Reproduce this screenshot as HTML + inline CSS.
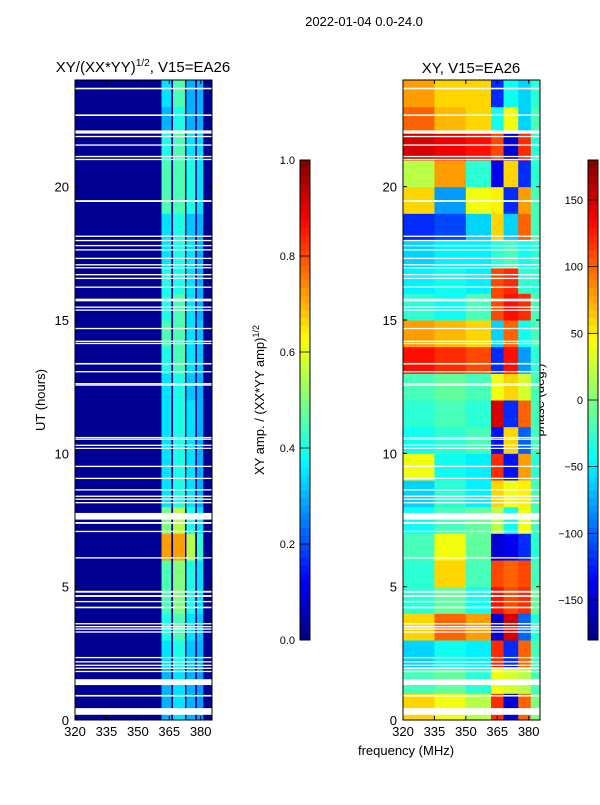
<!DOCTYPE html>
<html><head><meta charset="utf-8"><style>
body{margin:0;background:#fff;width:600px;height:800px;overflow:hidden}
svg{font-family:"Liberation Sans","DejaVu Sans",sans-serif}
</style></head><body>
<svg id="fig" width="600" height="800" viewBox="0 0 600 800" xmlns="http://www.w3.org/2000/svg">
<text x="364" y="26" font-size="13" text-anchor="middle">2022-01-04 0.0-24.0</text>
<text x="143" y="72" font-size="15" text-anchor="middle">XY/(XX*YY)<tspan font-size="10" dy="-6">1/2</tspan><tspan dy="6">, V15=EA26</tspan></text>
<text x="471" y="73" font-size="15" text-anchor="middle">XY, V15=EA26</text>
<text x="45" y="400" font-size="13" text-anchor="middle" transform="rotate(-90 45 400)">UT (hours)</text>
<text x="406" y="755" font-size="13" text-anchor="middle">frequency (MHz)</text>
<text x="264" y="400" font-size="13" text-anchor="middle" transform="rotate(-90 264 400)">XY amp. / (XX*YY amp)<tspan font-size="9" dy="-5">1/2</tspan></text>
<text x="544" y="400" font-size="13" text-anchor="middle" transform="rotate(-90 544 400)">phase (deg.)</text>
<g id="left"></g><g id="right"></g><g id="cbs"></g>
</svg>
<script>
// ---- data ----
const hours = [0,1,2,3,4,5,6,7,8,9,10,11,12,13,14,15,16,17,18,19,20,21,22,23];
const ampBands = [[361.3,366],[366.8,372.5],[373.2,377.4],[378.2,381.2]];
const ampBackground = 0.02;
const ampValues = [
[.3,.35,.3,.28],[.3,.35,.3,.28],[.35,.4,.32,.3],[.4,.45,.35,.32],[.45,.5,.4,.35],[.45,.5,.4,.35],
[.72,.72,.55,.42],[.5,.55,.4,.35],[.35,.4,.35,.3],[.35,.4,.35,.3],[.35,.4,.35,.3],[.35,.4,.35,.3],
[.35,.4,.32,.3],[.4,.45,.35,.32],[.45,.45,.35,.32],[.4,.45,.35,.3],[.4,.4,.35,.3],[.35,.4,.35,.3],
[.35,.4,.32,.3],[.45,.45,.4,.35],[.45,.45,.4,.35],[.4,.45,.35,.35],[.3,.4,.3,.3],[.35,.45,.3,.3]];
const phaseBands = [[320,335],[335,350],[350,362],[362,368],[368,375],[375,381],[381,385.4]];
const phaseValues = [
[60,40,20,120,-150,100,0],[-20,-10,-30,40,30,20,-20],[-60,-40,-50,120,-120,100,-20],[60,100,80,-150,150,-100,-30],
[-30,-10,-40,130,110,120,-10],[-30,60,-20,110,100,110,-20],[-20,40,-10,-150,-140,-120,-30],[-40,-20,-10,20,-40,40,-20],
[-60,-30,-50,60,40,50,-20],[40,-40,-50,120,-130,80,-30],[-40,-30,-20,-130,60,-100,-20],[-30,-20,-30,150,-120,100,-20],
[-20,-10,-20,40,60,30,-20],[130,120,110,-120,130,-80,-30],[80,70,60,-60,100,-40,-20],[-30,-40,-20,110,130,120,-20],
[-50,-40,-50,110,120,-30,-30],[-60,-50,-50,-30,-20,-40,-30],[-120,-110,-60,60,-60,100,-20],[60,-80,40,50,-120,80,-20],
[20,80,-30,-140,60,-120,-30],[150,140,130,110,-150,120,-30],[100,70,60,-40,40,-60,-20],[80,60,60,-120,-40,-60,-30]];
const gaps = [[23.68,.06],[22.68,.06],[22.05,.12],[21.88,.05],[21.56,.05],[21.13,.05],[21.02,.05],[19.46,.07],[18.14,.05],[17.98,.05],[17.79,.05],[17.63,.05],[17.31,.05],[17.07,.05],[16.96,.05],[16.7,.05],[16.56,.05],[16.23,.05],[15.75,.1],[15.48,.05],[15.37,.05],[14.68,.05],[14.2,.05],[14.12,.05],[13.36,.06],[13.06,.05],[12.61,.05],[12.56,.04],[10.59,.05],[10.53,.04],[10.3,.05],[10.19,.04],[9.51,.05],[9.06,.05],[8.63,.05],[8.39,.05],[8.28,.05],[8.15,.05],[7.64,.25],[7.39,.07],[7.07,.05],[6.08,.05],[4.81,.07],[4.65,.07],[4.44,.05],[4.22,.06],[3.61,.05],[3.5,.05],[3.41,.05],[3.3,.05],[2.34,.05],[2.18,.05],[2.05,.05],[1.94,.05],[1.82,.05],[1.42,.22],[0.91,.06],[0.32,.25]];
const xTicks = [320,335,350,365,380];
const yTicks = [0,5,10,15,20];
const ampTicks = [0,0.2,0.4,0.6,0.8,1.0];
const phaseTicks = [-150,-100,-50,0,50,100,150];

// ---- helpers ----
const NS="http://www.w3.org/2000/svg";
function jet(v){v=Math.max(0,Math.min(1,v));
 const r=Math.max(0,Math.min(1,1.5-Math.abs(4*v-3))),g=Math.max(0,Math.min(1,1.5-Math.abs(4*v-2))),b=Math.max(0,Math.min(1,1.5-Math.abs(4*v-1)));
 return `rgb(${Math.round(r*255)},${Math.round(g*255)},${Math.round(b*255)})`;}
function mk(tag,attrs,parent){const e=document.createElementNS(NS,tag);for(const k in attrs)e.setAttribute(k,attrs[k]);parent.appendChild(e);return e;}
const Y0=720,Y1=80,XMIN=320,XMAX=385.4;
const yScale=h=>Y0-(h/24)*(Y0-Y1);
function panel(gid,x0,x1,drawCells){
 const g=document.getElementById(gid);
 const xs=f=>x0+(f-XMIN)/(XMAX-XMIN)*(x1-x0);
 drawCells(g,xs);
 gaps.forEach(gp=>{const r=mk('rect',{x:x0,y:yScale(gp[0]+gp[1]/2),width:x1-x0,height:Math.max(1.2,gp[1]/24*640),fill:'#fff'},g);
  
  });
 const fr=mk('rect',{x:x0,y:Y1,width:x1-x0,height:Y0-Y1,fill:'none',stroke:'#000','stroke-width':1},g);
 
 
 xTicks.forEach(t=>{const x=xs(t);
  mk('line',{x1:x,x2:x,y1:Y0,y2:Y0-4,stroke:'#000'},g);mk('line',{x1:x,x2:x,y1:Y1,y2:Y1+4,stroke:'#000'},g);
  const tx=mk('text',{x:x,y:Y0+16,'font-size':13,'text-anchor':'middle'},g);tx.textContent=t;
  
  });
 yTicks.forEach(t=>{const y=yScale(t);
  mk('line',{x1:x0,x2:x0+4,y1:y,y2:y,stroke:'#000'},g);mk('line',{x1:x1,x2:x1-4,y1:y,y2:y,stroke:'#000'},g);
  const tx=mk('text',{x:x0-6,y:y+5,'font-size':13,'text-anchor':'end'},g);tx.textContent=t;
  
  });
}
// left amplitude panel
panel('left',75,212,(g,xs)=>{
 const bg=mk('rect',{x:75,y:Y1,width:137,height:640,fill:jet(ampBackground)},g);
 
 
 hours.forEach((h,i)=>{ampBands.forEach((b,j)=>{
  const c=mk('rect',{x:xs(b[0]),y:yScale(h+1),width:xs(b[1])-xs(b[0]),height:yScale(h)-yScale(h+1)+0.5,fill:jet(ampValues[i][j])},g);
  
  });});
});
// right phase panel
panel('right',403,540,(g,xs)=>{
 hours.forEach((h,i)=>{phaseBands.forEach((b,j)=>{
  const c=mk('rect',{x:xs(b[0]),y:yScale(h+1),width:xs(b[1])-xs(b[0])+0.5,height:yScale(h)-yScale(h+1)+0.5,fill:jet((phaseValues[i][j]+180)/360)},g);
  
  });});
});
// colorbars
function colorbar(x,ticks,vmin,vmax,fmt,name){
 const g=document.getElementById('cbs');
 const n=64;
 for(let k=0;k<n;k++){const r=mk('rect',{x:x,y:640-(k+1)*480/n,width:10,height:480/n+0.5,fill:jet((k+.5)/n)},g);
  
  }
 const fr=mk('rect',{x:x,y:160,width:10,height:480,fill:'none',stroke:'#000'},g);
 
 
 ticks.forEach(t=>{const y=640-(t-vmin)/(vmax-vmin)*480;
  mk('line',{x1:x,x2:x+10,y1:y,y2:y,stroke:'#000','stroke-width':0.8},g);
  const tx=mk('text',{x:x-5,y:y+4,'font-size':11,'text-anchor':'end'},g);tx.textContent=fmt(t);
  
  });
}
colorbar(300,ampTicks,0,1,t=>t.toFixed(1),'amp-colorbar');
colorbar(588,phaseTicks,-180,180,t=>t<0?'\u2212'+(-t):String(t),'phase-colorbar');
</script>
</body></html>
